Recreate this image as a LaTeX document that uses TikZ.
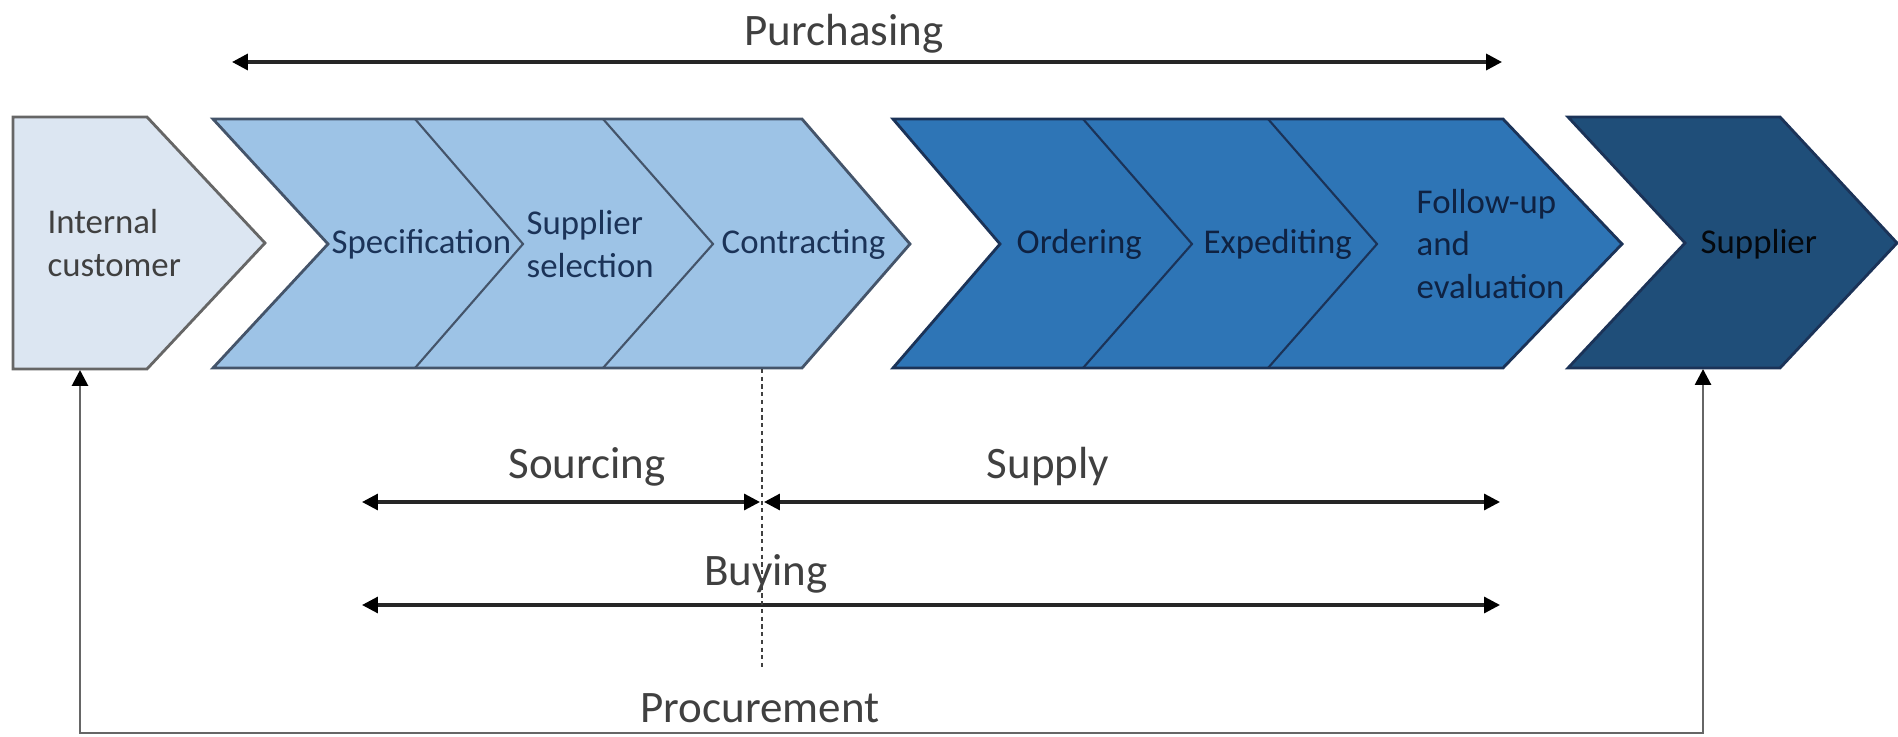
\documentclass[tikz,border=0pt]{standalone}
\usepackage{fontspec}
\setmainfont{Carlito}
\usetikzlibrary{arrows.meta}

\definecolor{custfill}{HTML}{DCE6F2}
\definecolor{srcfill}{HTML}{9DC3E6}
\definecolor{supfill}{HTML}{2E75B6}
\definecolor{vendfill}{HTML}{1F4E79}
\definecolor{rim}{HTML}{44546A}
\definecolor{navy}{HTML}{1B3358}
\definecolor{deepnavy}{HTML}{0F2242}
\definecolor{ink}{HTML}{404040}

\tikzset{
  stage/.style={anchor=west, inner sep=0pt, align=left, text=navy,
    font=\fontsize{9.9}{12.2}\selectfont},
  phase/.style={anchor=base, inner sep=0pt, text=ink,
    font=\fontsize{12.8}{15}\selectfont},
  span/.style={line width=0.9pt, draw=black!85,
    {Triangle[length=4.5pt,width=4.5pt,color=black]}-{Triangle[length=4.5pt,width=4.5pt,color=black]}},
}

\begin{document}
\begin{tikzpicture}[x=0.01cm, y=-0.01cm]
\useasboundingbox (0,0) rectangle (1898,737);

\filldraw[fill=custfill, draw=black!60, line width=0.8pt] (13,117) -- (147,117) -- (265,243) -- (147,369) -- (13,369) -- cycle;

\filldraw[fill=srcfill, draw=rim, line width=0.8pt] (213,119) -- (802,119) -- (910,244) -- (802,368) -- (213,368) -- (328,244) -- cycle;
\draw[rim, line width=0.6pt] (415,119) -- (523,244) -- (415,368);
\draw[rim, line width=0.6pt] (603,119) -- (713,244) -- (603,368);

\filldraw[fill=supfill, draw=navy, line width=0.8pt] (893,119) -- (1503,119) -- (1622,244) -- (1503,368) -- (893,368) -- (1000,244) -- cycle;
\draw[navy, line width=0.6pt] (1083,119) -- (1192,244) -- (1083,368);
\draw[navy, line width=0.6pt] (1268,119) -- (1377,244) -- (1268,368);

\filldraw[fill=vendfill, draw=navy, line width=0.8pt] (1568,117) -- (1780,117) -- (1897,243) -- (1780,368) -- (1568,368) -- (1685,243) -- cycle;

\node[stage, text=ink] (cust) at (47,243) {Internal\\customer};
\node[stage] (spec) at (331,244) {Specification};
\node[stage] (sel) at (526,244) {Supplier\\selection};
\node[stage] (contr) at (721,244) {Contracting};
\node[stage, text=deepnavy] (order) at (1016,244) {Ordering};
\node[stage, text=deepnavy] (exped) at (1203,244) {Expediting};
\node[stage, text=deepnavy] (follow) at (1416,244) {Follow-up\\and\\evaluation};
\node[stage, text=black!85!navy] (supp) at (1700,244) {Supplier};

\node[phase] (purch) at (844,46) {Purchasing};
\node[phase] (sourc) at (587,478) {Sourcing};
\node[phase] (suppl) at (1048,478) {Supply};
\node[phase] (buy) at (766,585) {Buying};
\node[phase] (procur) at (760,722) {Procurement};

\coordinate (purch-l) at (232,62);
\coordinate (purch-r) at (1502,62);
\coordinate (sourc-l) at (362,502);
\coordinate (sourc-r) at (760,502);
\coordinate (suppl-l) at (764,502);
\coordinate (suppl-r) at (1500,502);
\coordinate (buy-l) at (362,605);
\coordinate (buy-r) at (1500,605);
\coordinate (cut-top) at (762,369);
\coordinate (cut-bot) at (762,668);
\coordinate (cust-foot) at (80,370);
\coordinate (supp-foot) at (1703,369);
\coordinate (proc-line) at (760,733);

\draw[span, line width=1pt] (purch-l) -- (purch-r);
\draw[span] (sourc-l) -- (sourc-r);
\draw[span] (suppl-l) -- (suppl-r);
\draw[span] (buy-l) -- (buy-r);

\draw[black!75, line width=0.5pt, dash pattern=on 1.2pt off 1pt] (cut-top) -- (cut-bot);

\draw[span, draw=black!60, line width=0.8pt] (cust-foot) |- (proc-line) -| (supp-foot);

\end{tikzpicture}
\end{document}
